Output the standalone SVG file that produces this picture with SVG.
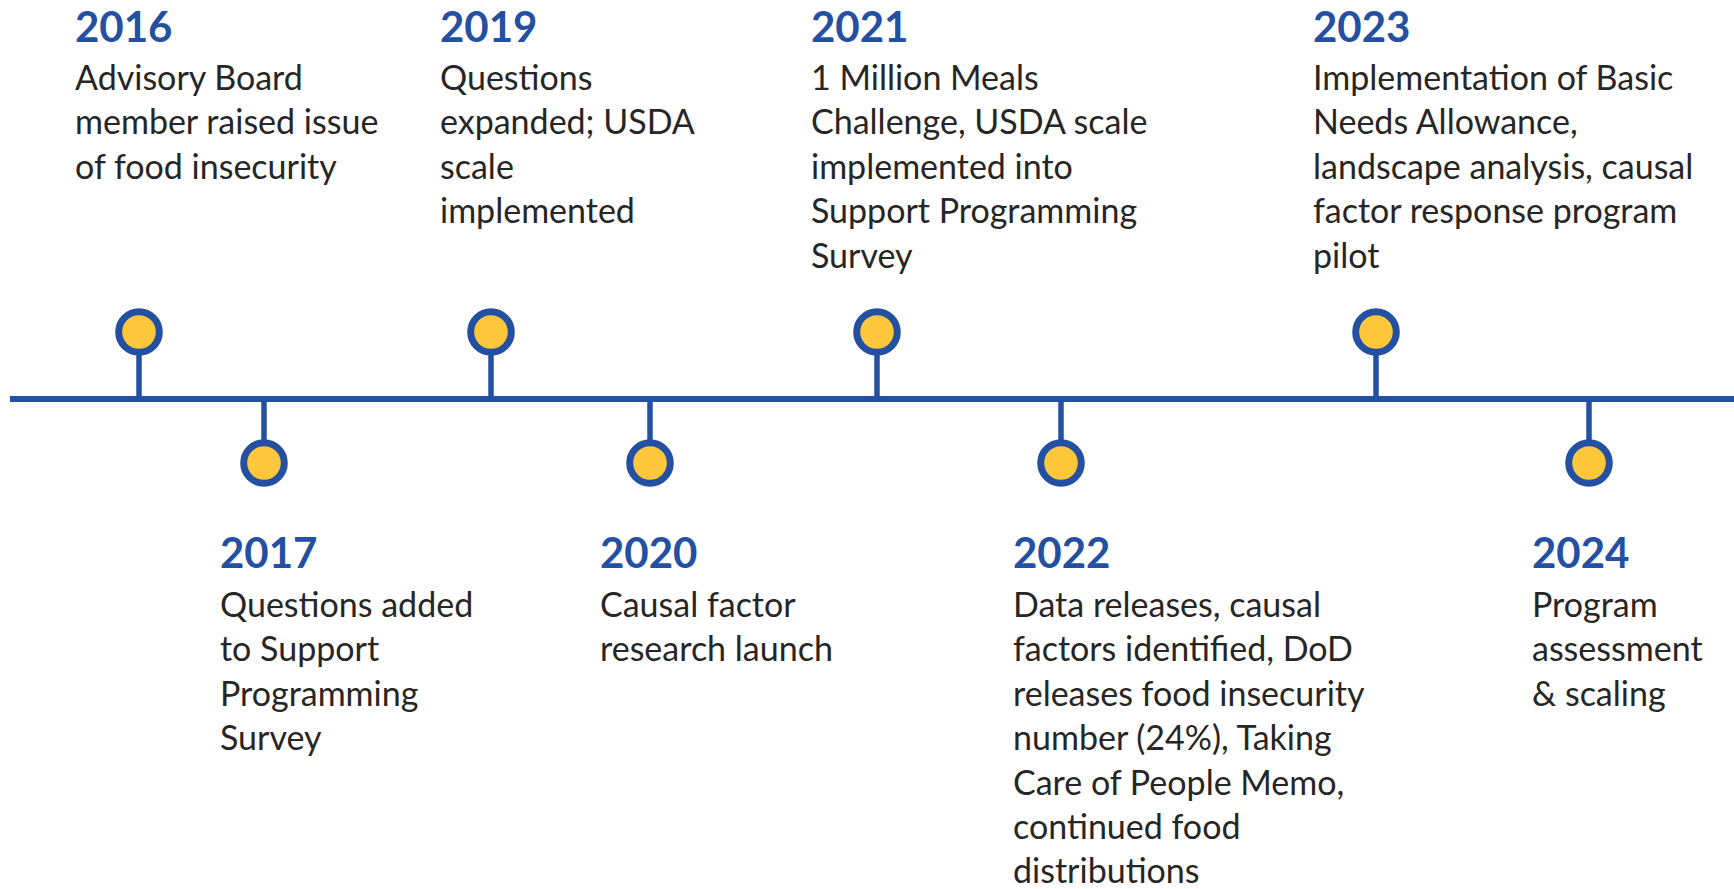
<svg xmlns="http://www.w3.org/2000/svg" width="1734" height="889" viewBox="0 0 1734 889">
<style>
.yr{font-family:Lato,"Liberation Sans",sans-serif;font-weight:700;font-size:42px;fill:#2350A1}
.tx{font-family:Lato,"Liberation Sans",sans-serif;font-size:34px;fill:#262626}
.dot{fill:#FFC73B;stroke:#2350A1;stroke-width:7}
.stem{stroke:#2350A1;stroke-width:5.5}
.axis{stroke:#2350A1;stroke-width:6}
</style>
<rect width="1734" height="889" fill="#ffffff"/>
<g id="connectors">
<line class="axis" x1="10" y1="399" x2="1734" y2="399"/>
<line class="stem" x1="139" y1="352" x2="139" y2="399"/>
<line class="stem" x1="491" y1="352" x2="491" y2="399"/>
<line class="stem" x1="877" y1="352" x2="877" y2="399"/>
<line class="stem" x1="1376" y1="352" x2="1376" y2="399"/>
<line class="stem" x1="264" y1="399" x2="264" y2="443"/>
<line class="stem" x1="650" y1="399" x2="650" y2="443"/>
<line class="stem" x1="1061" y1="399" x2="1061" y2="443"/>
<line class="stem" x1="1589" y1="399" x2="1589" y2="443"/>
</g>
<g id="n2016">
<circle class="dot" cx="139" cy="332" r="20.3"/>
<text class="yr" x="75" y="42">2016</text>
<text class="tx" x="75" y="90">Advisory Board</text>
<text class="tx" x="75" y="134.4">member raised issue</text>
<text class="tx" x="75" y="178.8">of food insecurity</text>
</g>
<g id="n2017">
<circle class="dot" cx="264" cy="463" r="20.3"/>
<text class="yr" x="220" y="568">2017</text>
<text class="tx" x="220" y="617">Questions added</text>
<text class="tx" x="220" y="661.4">to Support</text>
<text class="tx" x="220" y="705.8">Programming</text>
<text class="tx" x="220" y="750.2">Survey</text>
</g>
<g id="n2019">
<circle class="dot" cx="491" cy="332" r="20.3"/>
<text class="yr" x="440" y="42">2019</text>
<text class="tx" x="440" y="90">Questions</text>
<text class="tx" x="440" y="134.4">expanded; USDA</text>
<text class="tx" x="440" y="178.8">scale</text>
<text class="tx" x="440" y="223.2">implemented</text>
</g>
<g id="n2020">
<circle class="dot" cx="650" cy="463" r="20.3"/>
<text class="yr" x="600" y="568">2020</text>
<text class="tx" x="600" y="617">Causal factor</text>
<text class="tx" x="600" y="661.4">research launch</text>
</g>
<g id="n2021">
<circle class="dot" cx="877" cy="332" r="20.3"/>
<text class="yr" x="811" y="42">2021</text>
<text class="tx" x="811" y="90">1 Million Meals</text>
<text class="tx" x="811" y="134.4">Challenge, USDA scale</text>
<text class="tx" x="811" y="178.8">implemented into</text>
<text class="tx" x="811" y="223.2">Support Programming</text>
<text class="tx" x="811" y="267.6">Survey</text>
</g>
<g id="n2022">
<circle class="dot" cx="1061" cy="463" r="20.3"/>
<text class="yr" x="1013" y="568">2022</text>
<text class="tx" x="1013" y="617">Data releases, causal</text>
<text class="tx" x="1013" y="661.4">factors identified, DoD</text>
<text class="tx" x="1013" y="705.8">releases food insecurity</text>
<text class="tx" x="1013" y="750.2">number (24%), Taking</text>
<text class="tx" x="1013" y="794.6">Care of People Memo,</text>
<text class="tx" x="1013" y="839">continued food</text>
<text class="tx" x="1013" y="883.4">distributions</text>
</g>
<g id="n2023">
<circle class="dot" cx="1376" cy="332" r="20.3"/>
<text class="yr" x="1313" y="42">2023</text>
<text class="tx" x="1313" y="90">Implementation of Basic</text>
<text class="tx" x="1313" y="134.4">Needs Allowance,</text>
<text class="tx" x="1313" y="178.8">landscape analysis, causal</text>
<text class="tx" x="1313" y="223.2">factor response program</text>
<text class="tx" x="1313" y="267.6">pilot</text>
</g>
<g id="n2024">
<circle class="dot" cx="1589" cy="463" r="20.3"/>
<text class="yr" x="1532" y="568">2024</text>
<text class="tx" x="1532" y="617">Program</text>
<text class="tx" x="1532" y="661.4">assessment</text>
<text class="tx" x="1532" y="705.8">&amp; scaling</text>
</g>
</svg>
